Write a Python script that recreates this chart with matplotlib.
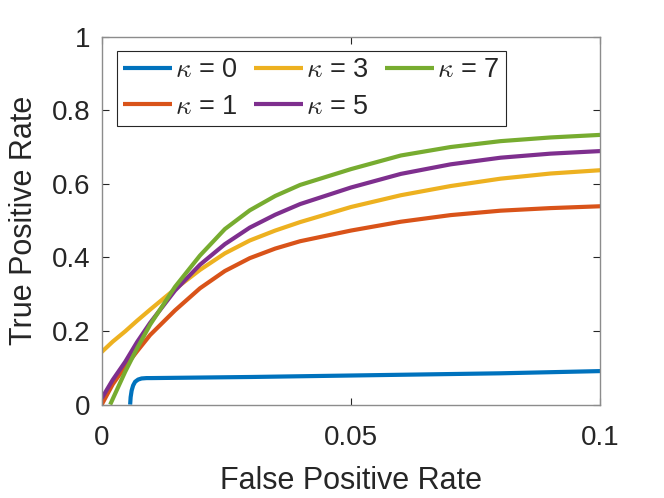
import matplotlib
matplotlib.use("Agg")
import matplotlib.pyplot as plt

# false positive rate grid shared by the kappa = 1, 3, 5 curves
fpr = [0, 0.0022, 0.0047, 0.0071, 0.0097, 0.0147, 0.0197, 0.0247, 0.0297,
       0.0348, 0.0398, 0.050, 0.060, 0.070, 0.080, 0.090, 0.100]
tpr_k1 = [0.0, 0.055, 0.103, 0.145, 0.189, 0.256, 0.316, 0.363, 0.398,
          0.424, 0.444, 0.473, 0.497, 0.515, 0.527, 0.534, 0.539]
tpr_k3 = [0.143, 0.171, 0.199, 0.228, 0.258, 0.314, 0.366, 0.411, 0.446,
          0.473, 0.496, 0.537, 0.569, 0.594, 0.614, 0.628, 0.637]
tpr_k5 = [0.017, 0.067, 0.116, 0.17, 0.222, 0.31, 0.38, 0.436, 0.481,
          0.516, 0.545, 0.59, 0.627, 0.653, 0.671, 0.682, 0.689]

# kappa = 7 starts a bit right of zero
fpr_k7 = [0.0017, 0.0022, 0.0047, 0.0071, 0.0097, 0.0147, 0.0197, 0.0247, 0.0297,
          0.0348, 0.0398, 0.050, 0.060, 0.070, 0.080, 0.090, 0.100]
tpr_k7 = [0.0, 0.015, 0.089, 0.153, 0.217, 0.32, 0.405, 0.477, 0.528,
          0.567, 0.597, 0.640, 0.677, 0.70, 0.716, 0.726, 0.733]

# kappa = 0
fpr_k0 = [0.0057, 0.0058, 0.0060, 0.0063, 0.0067, 0.0073, 0.0080, 0.0090,
          0.0100, 0.0300, 0.0500, 0.0800, 0.1000]
tpr_k0 = [0.0, 0.02, 0.038, 0.052, 0.062, 0.068, 0.071, 0.072,
          0.072, 0.075, 0.079, 0.085, 0.091]

labels = [r'$\kappa$ = 0', r'$\kappa$ = 1', r'$\kappa$ = 3', r'$\kappa$ = 5', r'$\kappa$ = 7']
colors = ['#0072BD', '#D95319', '#EDB120', '#7E2F8E', '#77AC30']
xticks = [0, 0.05, 0.1]
xtick_labels = ['0', '0.05', '0.1']
yticks = [0, 0.2, 0.4, 0.6, 0.8, 1]
ytick_labels = ['0', '0.2', '0.4', '0.6', '0.8', '1']

plt.rcParams['font.family'] = ['Liberation Sans', 'DejaVu Sans']
plt.rcParams['mathtext.fontset'] = 'cm'

fig = plt.figure(figsize=(6.64, 4.98), dpi=100)
ax = fig.add_axes([0.1532, 0.1876, 0.7508, 0.7388])

series = [(fpr_k0, tpr_k0), (fpr, tpr_k1), (fpr, tpr_k3), (fpr, tpr_k5), (fpr_k7, tpr_k7)]
for (xs, ys), lab, c in zip(series, labels, colors):
    ax.plot(xs, ys, color=c, lw=3, label=lab, solid_capstyle='butt',
            solid_joinstyle='round')

ax.set_xlim(0, 0.1)
ax.set_ylim(0, 1)
ax.set_xticks(xticks)
ax.set_xticklabels(xtick_labels)
ax.set_yticks(yticks)
ax.set_yticklabels(ytick_labels)

text_col = '#262626'
for s in ax.spines.values():
    s.set_color('#8c8c8c')
    s.set_linewidth(1)
ax.tick_params(direction='in', length=5, width=0.8, color='#262626',
               labelsize=20, labelcolor=text_col, top=True, right=True)
ax.tick_params(axis='x', pad=15)
ax.tick_params(axis='y', pad=8)

ax.set_xlabel('False Positive Rate', fontsize=22, color=text_col)
ax.set_ylabel('True Positive Rate', fontsize=22, color=text_col)
ax.xaxis.set_label_coords(0.5, -0.168)
ax.yaxis.set_label_coords(-0.125, 0.5)

leg = ax.legend(loc='upper left', ncol=3, fontsize=19.5, frameon=True, fancybox=False,
                framealpha=1, edgecolor='#262626', handlelength=1.8, handletextpad=0.12,
                columnspacing=0.6, labelspacing=0.38, borderpad=0.25,
                bbox_to_anchor=(0.03, 0.962), borderaxespad=0)
leg.get_frame().set_linewidth(0.8)
for t in leg.get_texts():
    t.set_color(text_col)

fig.savefig('out.png', dpi=100)
